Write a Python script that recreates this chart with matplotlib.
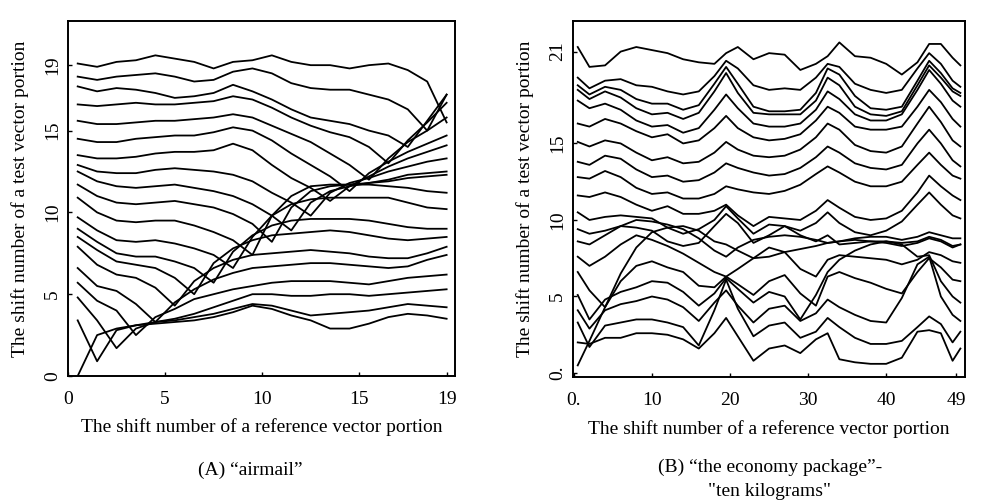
import matplotlib
matplotlib.use("Agg")
import matplotlib.pyplot as plt
import numpy as np

plt.rcParams["font.family"] = ["Liberation Serif", "DejaVu Serif"]

# ---- panel A: "airmail" (20 curves, 20 shifts each) ----
a_x = np.arange(20) + 0.5
a_lines = [
    [0.0, 2.5, 2.9, 3.1, 3.2, 3.3, 3.4, 3.6, 3.9, 4.3, 4.1, 3.7, 3.4, 2.9, 2.9, 3.2, 3.6, 3.8, 3.7, 3.5],
    [3.4, 0.9, 2.8, 3.1, 3.3, 3.4, 3.6, 3.8, 4.1, 4.4, 4.3, 4.0, 3.7, 3.8, 3.9, 4.0, 4.2, 4.4, 4.3, 4.2],
    [4.8, 3.4, 1.7, 2.9, 3.3, 3.5, 3.8, 4.2, 4.6, 5.0, 5.0, 4.9, 4.9, 5.0, 5.0, 4.9, 5.0, 5.1, 5.2, 5.3],
    [5.7, 4.6, 4.0, 2.5, 3.6, 4.1, 4.7, 5.0, 5.3, 5.5, 5.7, 5.8, 5.8, 5.8, 5.7, 5.6, 5.8, 6.0, 6.1, 6.2],
    [6.6, 5.5, 5.2, 4.4, 3.3, 4.5, 5.3, 5.9, 6.3, 6.6, 6.7, 6.8, 6.9, 6.9, 6.8, 6.7, 6.6, 6.7, 7.1, 7.4],
    [7.9, 6.8, 6.2, 6.0, 5.4, 4.3, 5.8, 6.6, 7.1, 7.4, 7.5, 7.6, 7.7, 7.6, 7.5, 7.3, 7.2, 7.2, 7.5, 7.9],
    [8.5, 7.7, 7.0, 6.8, 6.6, 6.0, 5.0, 6.9, 7.8, 8.3, 8.6, 8.7, 8.8, 8.9, 8.8, 8.6, 8.4, 8.3, 8.4, 8.5],
    [9.0, 8.2, 7.5, 7.3, 7.3, 7.0, 6.6, 5.7, 7.6, 8.6, 9.2, 9.5, 9.6, 9.6, 9.6, 9.5, 9.3, 9.1, 9.0, 9.0],
    [9.7, 8.9, 8.3, 8.2, 8.3, 8.1, 7.8, 7.4, 6.6, 8.5, 9.8, 10.5, 10.8, 10.9, 10.9, 10.9, 10.9, 10.6, 10.3, 10.2],
    [10.9, 10.0, 9.5, 9.4, 9.5, 9.5, 9.2, 8.8, 8.3, 7.4, 9.8, 11.0, 11.6, 11.7, 11.7, 11.7, 11.6, 11.5, 11.3, 11.2],
    [11.7, 11.0, 10.6, 10.5, 10.6, 10.7, 10.5, 10.3, 9.9, 9.3, 8.2, 10.3, 11.3, 11.6, 11.7, 11.8, 11.9, 12.1, 12.2, 12.3],
    [12.5, 11.9, 11.6, 11.5, 11.6, 11.7, 11.5, 11.3, 11.0, 10.5, 9.8, 8.9, 10.6, 11.3, 11.6, 11.8, 12.0, 12.3, 12.4, 12.5],
    [12.9, 12.5, 12.4, 12.4, 12.6, 12.7, 12.6, 12.5, 12.3, 11.9, 11.2, 10.6, 9.8, 11.2, 11.8, 12.1, 12.5, 12.8, 13.1, 13.3],
    [13.5, 13.3, 13.3, 13.4, 13.6, 13.7, 13.7, 13.8, 14.2, 13.8, 12.9, 12.1, 11.5, 10.7, 11.6, 12.2, 12.8, 13.3, 13.7, 14.1],
    [14.5, 14.3, 14.3, 14.5, 14.6, 14.7, 14.7, 14.9, 15.2, 15.0, 14.4, 13.6, 12.9, 12.2, 11.3, 12.4, 13.1, 13.7, 14.2, 14.7],
    [15.6, 15.4, 15.4, 15.5, 15.6, 15.6, 15.7, 15.8, 16.0, 15.8, 15.3, 14.8, 14.3, 13.6, 12.9, 12.0, 13.3, 14.3, 15.0, 15.8],
    [16.6, 16.5, 16.6, 16.7, 16.6, 16.6, 16.7, 16.8, 17.1, 16.9, 16.4, 15.8, 15.3, 14.9, 14.6, 14.0, 13.0, 14.4, 15.5, 16.7],
    [17.7, 17.4, 17.6, 17.5, 17.3, 17.0, 17.1, 17.3, 17.8, 17.4, 16.9, 16.3, 15.8, 15.6, 15.4, 15.0, 14.7, 14.0, 15.6, 17.2],
    [18.3, 18.1, 18.3, 18.4, 18.5, 18.3, 18.0, 18.1, 18.6, 18.8, 18.5, 17.9, 17.6, 17.5, 17.5, 17.2, 16.9, 16.3, 15.0, 17.2],
    [19.1, 18.9, 19.2, 19.3, 19.6, 19.4, 19.2, 18.8, 19.2, 19.3, 19.6, 19.2, 19.0, 19.0, 18.8, 19.0, 19.1, 18.7, 18.0, 15.5],
]
a_xticks = [0, 5, 10, 15, 19.5]
a_xticklabels = ["0", "5", "10", "15", "19"]
a_yticks = [0, 5, 10, 15, 19]

# ---- panel B: "the economy package" - "ten kilograms" ----
b_x = [0.5, 2, 4, 6, 8, 10, 12, 14, 16, 18, 19.5, 21, 23, 25, 27, 29, 31, 32.5,
       34, 36, 38, 40, 42, 44, 45.5, 47, 48.5, 49.5]
b_lines = [
    [21.3, 20.0, 20.1, 21.0, 21.3, 21.1, 20.9, 20.5, 20.3, 20.2, 20.9, 21.3, 20.5, 20.9, 20.8, 19.8, 20.2, 20.7, 21.6, 20.7, 20.6, 20.2, 19.5, 20.3, 21.5, 21.5, 20.6, 20.1],
    [19.3, 18.6, 19.1, 19.2, 18.8, 18.7, 18.4, 18.2, 18.4, 19.4, 20.4, 19.9, 18.8, 18.5, 18.6, 18.5, 19.3, 20.2, 20.0, 18.9, 18.5, 18.3, 18.5, 19.9, 20.9, 20.2, 19.1, 18.7],
    [18.8, 18.2, 18.7, 18.5, 17.9, 17.6, 17.6, 17.2, 17.5, 18.9, 20.0, 18.9, 17.4, 17.1, 17.1, 17.2, 18.3, 19.9, 19.5, 18.1, 17.3, 17.2, 17.4, 19.1, 20.4, 19.6, 18.6, 18.3],
    [18.5, 17.9, 18.4, 18.0, 17.3, 16.9, 17.0, 16.6, 17.0, 18.4, 19.6, 18.3, 17.0, 16.9, 16.9, 16.9, 17.8, 19.3, 18.8, 17.4, 16.9, 16.8, 17.1, 18.8, 20.1, 19.3, 18.4, 18.1],
    [17.8, 17.3, 17.6, 17.2, 16.5, 16.1, 16.2, 15.7, 16.0, 17.2, 18.2, 17.3, 16.3, 16.1, 16.1, 16.3, 17.2, 18.4, 17.9, 16.9, 16.5, 16.5, 16.9, 18.5, 19.8, 18.9, 17.8, 17.4],
    [16.3, 16.1, 16.6, 16.3, 15.8, 15.4, 15.6, 15.0, 15.2, 16.0, 16.8, 16.0, 15.4, 15.2, 15.3, 15.6, 16.5, 17.4, 17.0, 16.1, 15.9, 15.9, 16.1, 17.4, 18.5, 17.7, 16.6, 16.1],
    [15.1, 14.8, 15.2, 15.0, 14.4, 13.9, 14.1, 13.7, 13.8, 14.4, 15.1, 14.6, 14.2, 14.1, 14.2, 14.6, 15.4, 16.3, 15.9, 14.9, 14.5, 14.4, 14.8, 16.3, 17.4, 16.4, 15.2, 14.8],
    [13.8, 13.6, 14.2, 14.0, 13.3, 12.8, 12.9, 12.5, 12.6, 13.1, 13.7, 13.4, 13.1, 12.9, 13.0, 13.4, 14.1, 14.8, 14.4, 13.7, 13.4, 13.3, 13.6, 15.0, 15.9, 15.0, 13.9, 13.5],
    [12.8, 12.7, 13.2, 12.8, 12.1, 11.7, 11.8, 11.4, 11.4, 11.7, 12.2, 12.0, 11.8, 11.7, 11.9, 12.3, 13.0, 13.5, 13.1, 12.5, 12.2, 12.2, 12.5, 13.6, 14.4, 13.6, 12.9, 12.7],
    [11.6, 11.5, 11.8, 11.5, 11.0, 10.6, 10.9, 10.4, 10.4, 10.6, 11.0, 10.3, 9.6, 10.2, 10.1, 10.0, 10.6, 11.3, 10.8, 10.2, 10.0, 10.1, 10.6, 11.8, 12.9, 12.2, 11.6, 11.3],
    [10.5, 10.0, 10.2, 10.3, 10.2, 10.1, 9.5, 9.1, 9.4, 10.0, 10.9, 10.1, 9.1, 9.7, 9.6, 9.3, 9.8, 10.5, 9.8, 9.2, 9.0, 9.3, 9.9, 11.0, 11.8, 11.0, 10.3, 10.1],
    [9.4, 9.1, 9.3, 9.6, 9.5, 9.3, 8.6, 8.3, 8.5, 9.6, 10.4, 9.8, 8.5, 9.0, 9.6, 9.0, 8.6, 9.0, 8.4, 8.5, 8.6, 8.5, 8.3, 8.5, 8.8, 8.6, 8.2, 8.4],
    [8.6, 8.4, 9.0, 9.6, 10.0, 9.9, 9.7, 9.4, 8.8, 8.0, 7.6, 8.2, 8.7, 8.9, 9.0, 8.9, 8.7, 8.5, 8.6, 8.8, 8.9, 8.9, 8.7, 8.9, 9.2, 9.0, 8.8, 8.8],
    [7.6, 7.0, 7.6, 8.4, 9.0, 8.7, 8.3, 7.8, 7.2, 6.6, 6.3, 6.8, 7.5, 8.2, 7.9, 6.8, 6.3, 7.4, 7.7, 7.6, 7.5, 7.4, 7.1, 7.4, 7.9, 7.7, 7.3, 7.2],
    [6.6, 5.4, 4.3, 6.0, 7.0, 7.3, 6.9, 6.6, 5.7, 5.6, 6.3, 5.8, 5.1, 6.0, 6.4, 5.2, 4.4, 6.3, 6.6, 6.2, 5.9, 5.5, 5.2, 6.6, 7.5, 6.9, 6.1, 6.0],
    [5.1, 3.5, 4.8, 5.3, 5.6, 6.0, 5.9, 5.3, 4.4, 5.2, 6.2, 5.5, 4.6, 5.3, 5.0, 3.5, 5.1, 6.6, 7.4, 8.0, 8.4, 8.6, 8.4, 7.6, 7.7, 6.0, 5.0, 4.6],
    [4.1, 2.9, 4.1, 4.5, 4.7, 5.0, 4.8, 4.3, 3.4, 4.6, 5.4, 4.4, 3.3, 4.2, 4.4, 3.4, 3.9, 4.8, 4.3, 3.8, 3.4, 3.3, 4.9, 7.1, 7.6, 5.0, 3.8, 3.4],
    [3.3, 1.7, 3.1, 3.3, 3.5, 3.5, 3.3, 3.0, 1.8, 4.1, 6.1, 4.2, 2.4, 3.1, 3.3, 2.3, 2.7, 3.6, 3.0, 2.3, 1.9, 1.9, 2.1, 3.0, 3.7, 3.2, 2.0, 2.7],
    [2.0, 1.9, 2.3, 2.3, 2.6, 2.6, 2.5, 2.2, 1.6, 2.6, 3.6, 2.4, 0.8, 1.6, 1.8, 1.3, 2.2, 2.6, 0.9, 0.7, 0.6, 0.6, 1.0, 2.7, 2.8, 2.6, 0.8, 1.6],
    [0.5, 2.1, 4.3, 6.5, 8.2, 9.2, 9.5, 9.6, 9.3, 8.6, 8.4, 8.0, 7.5, 7.6, 7.9, 8.1, 8.3, 8.5, 8.6, 8.7, 8.6, 8.6, 8.5, 8.6, 8.9, 8.7, 8.3, 8.4],
]
b_xticks = [0, 10, 20, 30, 40, 49]
b_xticklabels = ["0.", "10", "20", "30", "40", "49"]
b_yticks = [0, 5, 10, 15, 21]
b_yticklabels = ["0.", "5", "10", "15", "21"]

xlabel = "The shift number of a reference vector portion"
ylabel = "The shift number of a test vector portion"

fig = plt.figure(figsize=(9.88, 5.01), dpi=100)
ax_a = fig.add_axes([0.0688, 0.2495, 0.3917, 0.7086])
ax_b = fig.add_axes([0.5800, 0.2475, 0.3968, 0.7106])

for y in a_lines:
    ax_a.plot(a_x, y, color="black", linewidth=1.3)
for y in b_lines:
    ax_b.plot(b_x, y, color="black", linewidth=1.3)

ax_a.set_xlim(0, 19.93)
ax_a.set_ylim(0, 21.7)
ax_a.set_xticks(a_xticks, a_xticklabels)
ax_a.set_yticks(a_yticks, [str(v) for v in a_yticks])

ax_b.set_xlim(-0.1, 50.1)
ax_b.set_ylim(-0.26, 23.0)
ax_b.set_xticks(b_xticks, b_xticklabels)
ax_b.set_yticks(b_yticks, b_yticklabels)

for ax in (ax_a, ax_b):
    ax.tick_params(direction="in", length=3, width=1, labelsize=14)
    ax.tick_params(axis="x", pad=11)
    ax.tick_params(axis="y", pad=5)
    for lbl in ax.get_yticklabels():
        lbl.set_rotation(90)
        lbl.set_va("center")
    for s in ax.spines.values():
        s.set_linewidth(1.4)
    ax.set_xlabel(xlabel, fontsize=14)
    ax.set_ylabel(ylabel, fontsize=14)
    ax.xaxis.set_label_coords(0.5, -0.12)
    ax.yaxis.set_label_coords(-0.1, 0.5)

fig.text(0.253, 0.062, "(A) \u201cairmail\u201d", ha="center", va="center", fontsize=14)
fig.text(0.779, 0.068, "(B) \u201cthe economy package\u201d-", ha="center", va="center", fontsize=14)
fig.text(0.779, 0.018, "\"ten kilograms\"", ha="center", va="center", fontsize=14)

fig.savefig("out.png", dpi=100)
